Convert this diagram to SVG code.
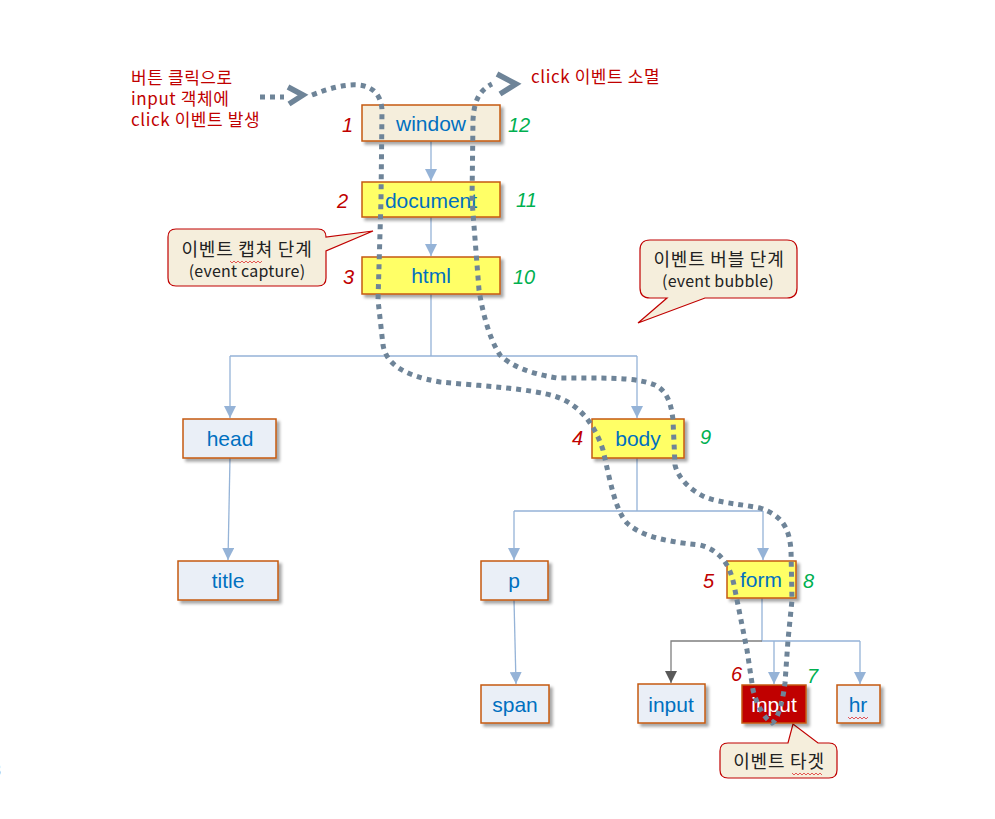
<svg xmlns="http://www.w3.org/2000/svg" width="995" height="819" viewBox="0 0 995 819">
<style>
.node rect{stroke:#C55A11;stroke-width:1.5;filter:url(#sh)}
.beige{fill:#F5EEDC}
.yel{fill:#FFFF66}
.blu{fill:#EAEFF7}
.red{fill:#C00000}
.nt{font-family:"Liberation Sans",Arial,sans-serif;font-size:21px;fill:#0070C0;text-anchor:middle}
.wt{fill:#FFFFFF}
.num{font-family:"Liberation Sans",Arial,sans-serif;font-size:20px;font-style:italic}
.rn{fill:#C00000}
.gn{fill:#00B050}
.kr{font-family:"Noto Sans CJK KR","Liberation Sans",sans-serif;font-size:17px;letter-spacing:0.6px;fill:#C00000}
.co{fill:#F5EEDC;stroke:#C00000;stroke-width:1.2}
.ct{font-family:"Noto Sans CJK KR","Liberation Sans",sans-serif;fill:#222;text-anchor:middle}
.k18{font-size:18px;letter-spacing:0.8px}
.e16{font-size:16px;letter-spacing:0.2px}
.ln{fill:none;stroke:#95B3D7;stroke-width:1.3}
.gl{fill:none;stroke:#7F7F7F;stroke-width:1.3}
.dot{fill:none;stroke:#6E8498;stroke-width:5;stroke-dasharray:5 5}
.chev{fill:none;stroke:#6E8498;stroke-width:5.5;stroke-linejoin:miter}
.wavy{fill:none;stroke:#E03030;stroke-width:0.8}
</style>
<defs>
<filter id="sh" x="-20%" y="-20%" width="150%" height="160%">
<feDropShadow dx="3" dy="3" stdDeviation="1.8" flood-color="#000" flood-opacity="0.35"/>
</filter>
<marker id="ab" markerUnits="userSpaceOnUse" markerWidth="12" markerHeight="12" refX="10" refY="5" orient="auto" viewBox="0 0 10 10">
<path d="M0,0 L10,5 L0,10 z" fill="#95B3D7"/>
</marker>
<marker id="ag" markerUnits="userSpaceOnUse" markerWidth="12" markerHeight="12" refX="10" refY="5" orient="auto" viewBox="0 0 10 10">
<path d="M0,0 L10,5 L0,10 z" fill="#595959"/>
</marker>
</defs>
<rect width="995" height="819" fill="#FFFFFF"/>

<g id="connectors">
<path class="ln" d="M431,141 V181" marker-end="url(#ab)"/>
<path class="ln" d="M431,217 V256" marker-end="url(#ab)"/>
<path class="ln" d="M431,294 V356 M230,356 H637"/>
<path class="ln" d="M230,356 V418" marker-end="url(#ab)"/>
<path class="ln" d="M637,356 V418" marker-end="url(#ab)"/>
<path class="ln" d="M230,458 L228,560" marker-end="url(#ab)"/>
<path class="ln" d="M637,458 V511 M514,511 H763"/>
<path class="ln" d="M514,511 V560" marker-end="url(#ab)"/>
<path class="ln" d="M763,511 V560" marker-end="url(#ab)"/>
<path class="ln" d="M514,600 L516,684" marker-end="url(#ab)"/>
<path class="ln" d="M762,598 V641 H860"/>
<path class="ln" d="M774,641 V684" marker-end="url(#ab)"/>
<path class="ln" d="M860,641 V684" marker-end="url(#ab)"/>
<path class="gl" d="M762,641 H671 V683" marker-end="url(#ag)"/>
</g>

<g id="callout-capture">
<path class="co" d="M176,229 H318 Q326,229 326,237 L373,231 L326,251 V278 Q326,286 318,286 H176 Q168,286 168,278 V237 Q168,229 176,229 Z"/>
<text class="ct k18" x="247" y="256">이벤트 캡쳐 단계</text>
<text class="ct e16" x="247" y="277">(event capture)</text>
<path class="wavy" d="M230,261 l2,2 l2,-2 l2,2 l2,-2 l2,2 l2,-2 l2,2 l2,-2 l2,2 l2,-2 l2,2 l2,-2 l2,2 l2,-2 l2,2 l2,-2"/>
</g>

<g id="callout-bubble">
<path class="co" d="M650,240 H787 Q797,240 797,250 V288 Q797,298 787,298 H705 L638,323 L667,298 H650 Q640,298 640,288 V250 Q640,240 650,240 Z"/>
<text class="ct k18" x="719" y="266">이벤트 버블 단계</text>
<text class="ct e16" x="718" y="287">(event bubble)</text>
</g>

<g id="callout-target">
<path class="co" d="M728,743 H788 L793,724 L818,743 H829 Q837,743 837,751 V770 Q837,778 829,778 H728 Q720,778 720,770 V751 Q720,743 728,743 Z"/>
<text class="ct k18" x="779" y="768">이벤트 타겟</text>
<path class="wavy" d="M792,773 l2,2 l2,-2 l2,2 l2,-2 l2,2 l2,-2 l2,2 l2,-2 l2,2 l2,-2 l2,2 l2,-2 l2,2 l2,-2 l2,2"/>
</g>

<g id="node-window" class="node"><rect class="beige" x="362" y="105" width="138" height="36"/><text class="nt" x="431" y="131">window</text></g>
<g id="node-document" class="node"><rect class="yel" x="362" y="182" width="138" height="35"/><text class="nt" x="431" y="208">document</text></g>
<g id="node-html" class="node"><rect class="yel" x="362" y="257" width="138" height="37"/><text class="nt" x="431" y="283">html</text></g>
<g id="node-head" class="node"><rect class="blu" x="183" y="419" width="93" height="39"/><text class="nt" x="230" y="446">head</text></g>
<g id="node-body" class="node"><rect class="yel" x="592" y="419" width="92" height="39"/><text class="nt" x="638" y="446">body</text></g>
<g id="node-title" class="node"><rect class="blu" x="178" y="561" width="100" height="39"/><text class="nt" x="228" y="588">title</text></g>
<g id="node-p" class="node"><rect class="blu" x="481" y="561" width="67" height="39"/><text class="nt" x="514" y="588">p</text></g>
<g id="node-form" class="node"><rect class="yel" x="727" y="561" width="69" height="37"/><text class="nt" x="761" y="587">form</text></g>
<g id="node-span" class="node"><rect class="blu" x="481" y="685" width="68" height="38"/><text class="nt" x="515" y="712">span</text></g>
<g id="node-input1" class="node"><rect class="blu" x="638" y="684" width="67" height="39"/><text class="nt" x="671" y="712">input</text></g>
<g id="node-input2" class="node"><rect class="red" x="742" y="685" width="64" height="38"/><text class="nt wt" x="774" y="712">input</text></g>
<g id="node-hr" class="node"><rect class="blu" x="837" y="685" width="43" height="38"/><text class="nt" x="858" y="712">hr</text><path class="wavy" d="M848,717 l2,2 l2,-2 l2,2 l2,-2 l2,2 l2,-2 l2,2 l2,-2 l2,2 l2,-2"/></g>

<g id="numbers">
<text class="num rn" x="342" y="132">1</text>
<text class="num rn" x="337" y="208">2</text>
<text class="num rn" x="343" y="284">3</text>
<text class="num rn" x="572" y="445">4</text>
<text class="num rn" x="703" y="588">5</text>
<text class="num rn" x="731" y="681">6</text>
<text class="num gn" x="807" y="683">7</text>
<text class="num gn" x="803" y="588">8</text>
<text class="num gn" x="700" y="444">9</text>
<text class="num gn" x="513" y="284">10</text>
<text class="num gn" x="516" y="207">11</text>
<text class="num gn" x="508" y="132">12</text>
</g>

<g id="labels">
<text class="kr" x="131" y="84">버튼 클릭으로</text>
<text class="kr" x="131" y="105">input 객체에</text>
<text class="kr" x="131" y="126">click 이벤트 발생</text>
<text class="kr" x="531" y="83">click 이벤트 소멸</text>
<text x="-8" y="776" font-family="Liberation Sans,sans-serif" font-size="16" fill="#7F6050">3</text>
</g>

<g id="event-path">
<path class="dot" d="M260,97 H284"/>
<path class="chev" d="M288,87 L303,95 L289,104"/>
<path class="dot" d="M312,95 C330,88 345,84 358,85 C372,86 381,94 382,110 L381,200 L378,300 L383,345 C386,362 400,375 440,382 C480,386 530,388 557,397 C580,405 595,425 603,450 C610,480 615,510 627,523 C640,535 660,541 700,545 C720,550 730,565 734,585 L747,650 L753,690 C757,705 764,718 772,723 C778,720 783,700 785,683 L788,640 L792,600 L791,550 C789,525 780,515 760,508 C740,504 720,503 705,497 C690,490 678,478 675,465 L673,420 C671,400 665,390 655,385 C640,379 620,378 590,378 L557,378 C527,373 510,365 500,355 C490,340 483,315 479,290 L472,200 L473,120 C474,100 480,90 492,84"/>
<path class="chev" d="M497,74 L516,84 L500,94"/>
</g>
</svg>
